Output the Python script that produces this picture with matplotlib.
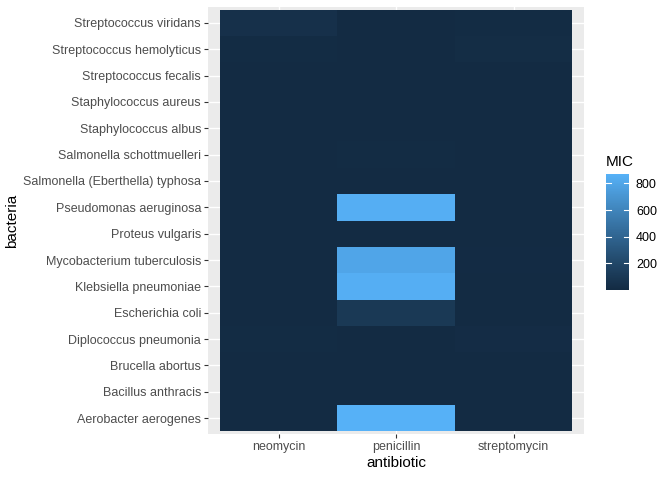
import numpy as np
import matplotlib
matplotlib.use("Agg")
import matplotlib.pyplot as plt
from matplotlib.colors import ListedColormap, Normalize

bacteria = [
    "Aerobacter aerogenes", "Bacillus anthracis", "Brucella abortus",
    "Diplococcus pneumonia", "Escherichia coli", "Klebsiella pneumoniae",
    "Mycobacterium tuberculosis", "Proteus vulgaris", "Pseudomonas aeruginosa",
    "Salmonella (Eberthella) typhosa", "Salmonella schottmuelleri",
    "Staphylococcus albus", "Staphylococcus aureus", "Streptococcus fecalis",
    "Streptococcus hemolyticus", "Streptococcus viridans",
]
antibiotics = ["neomycin", "penicillin", "streptomycin"]
neomycin = [1.6, 0.007, 0.02, 10, 0.1, 1, 2, 0.1, 0.4, 0.008, 0.09, 0.001, 0.001, 0.1, 10, 40]
penicillin = [870, 0.001, 1, 0.005, 100, 850, 800, 3, 850, 1, 10, 0.007, 0.03, 1, 0.001, 0.005]
streptomycin = [1, 0.01, 2, 11, 0.4, 1.2, 5, 0.1, 2, 0.4, 0.8, 0.1, 0.03, 1, 14, 10]
legend_ticks = [200, 400, 600, 800]

# ggplot2-like gradient interpolated in Lab space
def srgb_to_lab(rgb):
    rgb = np.asarray(rgb, float)
    lin = np.where(rgb <= 0.04045, rgb / 12.92, ((rgb + 0.055) / 1.055) ** 2.4)
    M = np.array([[0.4124, 0.3576, 0.1805], [0.2126, 0.7152, 0.0722], [0.0193, 0.1192, 0.9505]])
    xyz = M @ lin
    wp = np.array([0.95047, 1.0, 1.08883])
    t = xyz / wp
    f = np.where(t > (6/29)**3, np.cbrt(t), t / (3*(6/29)**2) + 4/29)
    return np.array([116*f[1]-16, 500*(f[0]-f[1]), 200*(f[1]-f[2])])

def lab_to_srgb(lab):
    L, a, b = lab
    fy = (L + 16) / 116
    fx = fy + a / 500
    fz = fy - b / 200
    def finv(f):
        return np.where(f > 6/29, f**3, 3*(6/29)**2*(f - 4/29))
    wp = np.array([0.95047, 1.0, 1.08883])
    xyz = np.array([finv(fx), finv(fy), finv(fz)]) * wp
    Minv = np.linalg.inv(np.array([[0.4124, 0.3576, 0.1805], [0.2126, 0.7152, 0.0722], [0.0193, 0.1192, 0.9505]]))
    lin = Minv @ xyz
    lin = np.clip(lin, 0, 1)
    return np.where(lin <= 0.0031308, 12.92*lin, 1.055*lin**(1/2.4) - 0.055)

def hex2rgb(h):
    h = h.lstrip("#")
    return np.array([int(h[i:i+2], 16)/255 for i in (0, 2, 4)])

lo = srgb_to_lab(hex2rgb("#132B43"))
hi = srgb_to_lab(hex2rgb("#56B1F7"))
cols = [np.clip(lab_to_srgb(lo + (hi - lo) * t), 0, 1) for t in np.linspace(0, 1, 256)]
cmap = ListedColormap(cols)

data = np.array([neomycin, penicillin, streptomycin]).T  # rows: bacteria, cols: antibiotics
vmin, vmax = data.min(), data.max()
norm = Normalize(vmin=vmin, vmax=vmax)

plt.rcParams['font.family'] = ['Liberation Sans', 'DejaVu Sans']
fig = plt.figure(figsize=(6.72, 4.8), dpi=100)
W, H = 672, 480
ax = fig.add_axes([208/W, 1-434/H, (584-208)/W, (434-7)/H])
ax.set_facecolor("#EBEBEB")
ax.set_axisbelow(True)
ax.grid(True, color="white", linewidth=1.0)
x = np.arange(len(antibiotics) + 1) - 0.5
y = np.arange(len(bacteria) + 1) - 0.5
ax.pcolormesh(x, y, data, cmap=cmap, norm=norm, zorder=2)
ax.set_xlim(-0.6, len(antibiotics) - 0.4)
ax.set_ylim(-0.6, len(bacteria) - 0.4)
ax.set_xticks(range(len(antibiotics)))
ax.set_xticklabels(antibiotics)
ax.set_yticks(range(len(bacteria)))
ax.set_yticklabels(bacteria)
for s in ax.spines.values():
    s.set_visible(False)
ax.tick_params(axis="both", length=3, width=0.8, color="#333333", labelcolor="#4D4D4D",
               labelsize=9, pad=2)
ax.set_xlabel("antibiotic", fontsize=11, color="black", labelpad=2)
ax.set_ylabel("bacteria", fontsize=11, color="black", labelpad=3)

# colorbar
cax = fig.add_axes([606/W, 1-290/H, 23/W, (290-174)/H])
grad = np.linspace(vmin, vmax, 300).reshape(-1, 1)
cax.pcolormesh([0, 1], np.linspace(vmin, vmax, 301), grad, cmap=cmap, norm=norm)
cax.set_xlim(0, 1)
cax.set_ylim(vmin, vmax)
cax.set_xticks([])
cax.yaxis.tick_right()
cax.set_yticks(legend_ticks)
cax.set_yticklabels([str(t) for t in legend_ticks])
cax.tick_params(axis="y", length=0, labelsize=9, labelcolor="black", pad=5)
for s in cax.spines.values():
    s.set_visible(False)
for t in legend_ticks:
    cax.plot([0, 0.2], [t, t], color="white", lw=0.8)
    cax.plot([0.8, 1], [t, t], color="white", lw=0.8)
fig.text(606/W, 1-162/H, "MIC", fontsize=11, ha="left", va="center")

fig.savefig("out.png", dpi=100)
